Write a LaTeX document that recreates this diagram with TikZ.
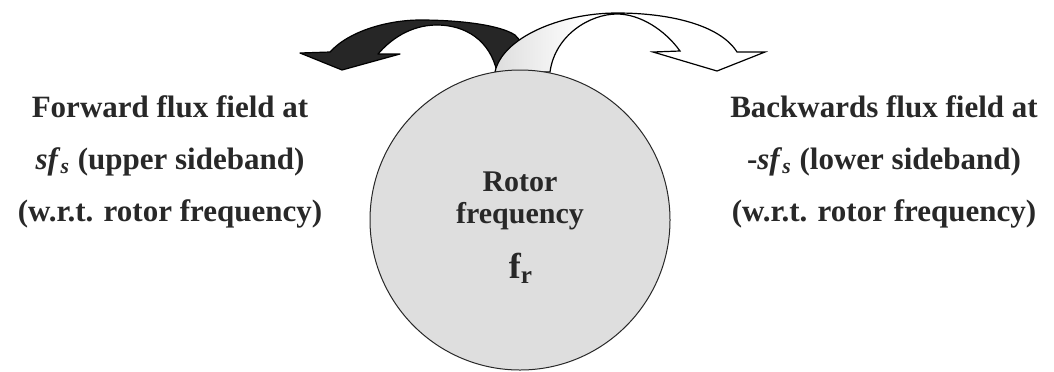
\documentclass[tikz,border=0pt]{standalone}
\usepackage{fontspec}
\setmainfont{Liberation Serif}
\usepackage{tikz}
\definecolor{rotorgray}{RGB}{222,222,222}
\definecolor{inkgray}{RGB}{40,40,40}
\newcommand\bwdshape{(495,72) .. controls (502,38) and (560,13) .. (617,13) .. controls (670,13) and (720,25) .. (737,52) -- (765,52) -- (717,71) -- (653,52) -- (680,51) .. controls (665,30) and (640,14) .. (617,14) .. controls (590,14) and (555,35) .. (550,72) -- cycle}

\begin{document}
\begin{tikzpicture}[
  x=0.5pt,y=-0.5pt,
  font=\bfseries\fontsize{15.5}{26}\selectfont,
  lbl/.style={text=inkgray,align=center,inner sep=0pt},
  rotor/.style={circle,draw=inkgray,fill=rotorgray,line width=0.5pt,minimum size=150pt,inner sep=0pt},
  fwdarr/.style={draw=black,fill=black!85,line width=0.6pt,line join=round},
  bwdarr/.style={draw=black,line width=0.6pt}
]
\useasboundingbox (0,0) rectangle (1054,371);
\fill[white] (0,0) rectangle (1054,371);
\draw[fwdarr] (497,72) .. controls (490,40) and (465,25) .. (437,25) .. controls (410,25) and (390,40) .. (378,54) -- (400,54) -- (342,70) -- (300,53) -- (330,52) .. controls (350,30) and (390,20) .. (420,20) .. controls (460,20) and (500,25) .. (515,35) .. controls (525,45) and (532,60) .. (535,72) -- cycle;
\fill[white] \bwdshape;
\begin{scope}
  \clip \bwdshape;
  \fill[left color=black!13,right color=white] (495,10) rectangle (585,72);
\end{scope}
\draw[bwdarr] \bwdshape;
\node[rotor] (rotor) at (520,220) {};
\node[lbl,font=\bfseries\fontsize{15}{16}\selectfont] (rotorname) at (520,201) {Rotor\\frequency};
\node[lbl,font=\bfseries\fontsize{18}{18}\selectfont] (rotorsym) at (521,268) {f\textsubscript{r}};
\node[lbl] (fwdtext) at (170,162) {Forward flux field at\\\textit{sf}\textsubscript{\textit{s}} (upper sideband)\\(w.r.t. rotor frequency)};
\node[lbl] (bwdtext) at (884,162) {Backwards flux field at\\-\textit{sf}\textsubscript{\textit{s}} (lower sideband)\\(w.r.t. rotor frequency)};
\end{tikzpicture}
\end{document}
